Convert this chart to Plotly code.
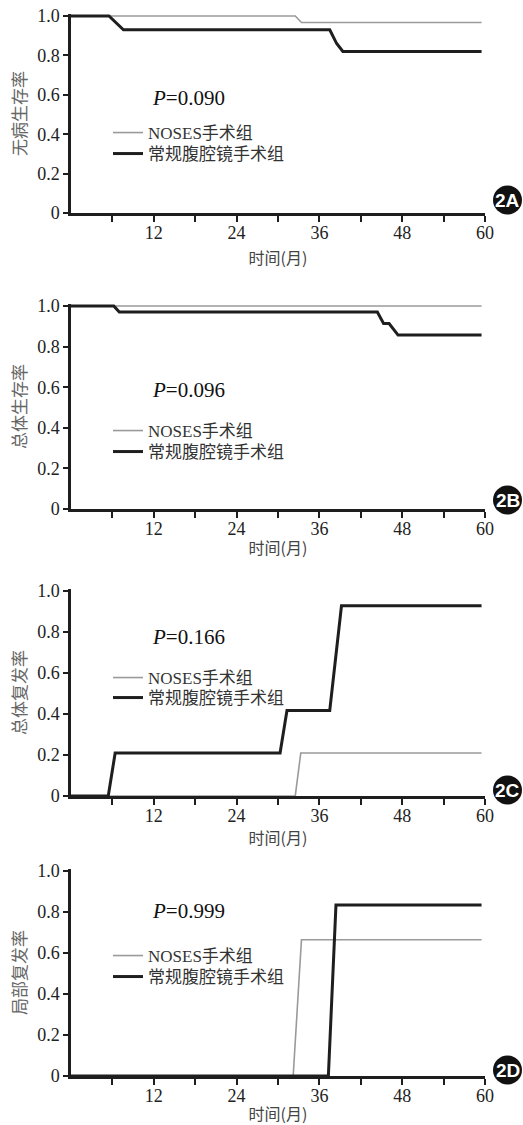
import plotly.graph_objects as go

# ---- data (months, rates) ----
dfs_noses_t = [0, 32.5, 33.4, 59.5]
dfs_noses_v = [1.0, 1.0, 0.967, 0.967]
dfs_conv_t = [0, 5.5, 7.6, 37.5, 38.5, 39.4, 59.5]
dfs_conv_v = [1.0, 1.0, 0.93, 0.93, 0.86, 0.82, 0.82]

os_noses_t = [0, 59.5]
os_noses_v = [1.0, 1.0]
os_conv_t = [0, 6.2, 7.0, 44.4, 45.3, 46.1, 47.4, 59.5]
os_conv_v = [1.0, 1.0, 0.97, 0.97, 0.914, 0.914, 0.857, 0.857]

rec_noses_t = [0, 32.5, 33.3, 59.5]
rec_noses_v = [0, 0, 0.21, 0.21]
rec_conv_t = [0, 5.4, 6.4, 30.3, 31.3, 37.5, 39.2, 59.5]
rec_conv_v = [0, 0, 0.21, 0.21, 0.417, 0.417, 0.928, 0.928]

loc_noses_t = [0, 32.2, 33.4, 59.5]
loc_noses_v = [0, 0, 0.665, 0.665]
loc_conv_t = [0, 37.3, 38.4, 59.5]
loc_conv_v = [0, 0, 0.834, 0.834]

panels = [
    ("无病生存率", "0.090", "2A", dfs_noses_t, dfs_noses_v, dfs_conv_t, dfs_conv_v),
    ("总体生存率", "0.096", "2B", os_noses_t, os_noses_v, os_conv_t, os_conv_v),
    ("总体复发率", "0.166", "2C", rec_noses_t, rec_noses_v, rec_conv_t, rec_conv_v),
    ("局部复发率", "0.999", "2D", loc_noses_t, loc_noses_v, loc_conv_t, loc_conv_v),
]
group_names = ["NOSES手术组", "常规腹腔镜手术组"]
x_tickvals = [6, 12, 18, 24, 30, 36, 42, 48, 54, 60]
x_ticktext = ["", "12", "", "24", "", "36", "", "48", "", "60"]
y_tickvals = [0, 0.2, 0.4, 0.6, 0.8, 1.0]
y_ticktext = ["0", "0.2", "0.4", "0.6", "0.8", "1.0"]
x_title = "时间(月)"

W, H = 523, 1125
ML, MR, MT, MB = 71, 38, 0, 0
PW = W - ML - MR
PH = H - MT - MB

# pixel layout of each panel (top = value 1.0, bottom = value 0)
plot_px = [(14, 213), (304, 509), (589, 796), (869, 1076)]
ptext_px = [98, 390, 637, 911]
legend_rows_px = [(132, 153), (430, 451), (677, 697), (955, 976)]
badge_px = [200, 500, 790, 1070]
xtitle_standoff = [11, 5, 8, 8]

SERIF = "Liberation Serif"
MIX = "Liberation Serif, Noto Sans CJK SC"
CJK = "Noto Sans CJK SC"

def py(px):
    return (H - MB - px) / PH

def pxx(px):
    return (px - ML) / PW

fig = go.Figure()
layout = dict(
    width=W, height=H,
    margin=dict(l=ML, r=MR, t=MT, b=MB, autoexpand=False),
    paper_bgcolor="white", plot_bgcolor="white",
    showlegend=True,
    annotations=[], shapes=[],
)

for i, (ytitle, pval, badge, nt, nv, ct, cv) in enumerate(panels):
    k = "" if i == 0 else str(i + 1)
    xa, ya = "x" + k, "y" + k
    lg_a = "legend" if i == 0 else "legend" + str(2 * i + 1)
    lg_b = "legend" + str(2 * i + 2)
    fig.add_trace(go.Scatter(x=nt, y=nv, xaxis=xa, yaxis=ya, mode="lines",
                             line=dict(color="#9a9a9a", width=1.6),
                             name=group_names[0], legend=lg_a))
    fig.add_trace(go.Scatter(x=ct, y=cv, xaxis=xa, yaxis=ya, mode="lines",
                             line=dict(color="#1e1e1e", width=3),
                             name=group_names[1], legend=lg_b))
    top, bot = plot_px[i]
    layout["xaxis" + k] = dict(
        domain=[0, 1], anchor=ya, range=[0, 60], automargin=False,
        tickvals=x_tickvals, ticktext=x_ticktext,
        ticks="outside", ticklen=6, tickwidth=2, tickcolor="#1e1e1e",
        ticklabelstandoff=-4,
        showline=True, linewidth=2.5, linecolor="#1e1e1e",
        showgrid=False, zeroline=False,
        tickfont=dict(family=SERIF, size=18, color="#222"),
        title=dict(text=x_title, font=dict(family=CJK, size=16, color="#444"),
                   standoff=xtitle_standoff[i]),
    )
    layout["yaxis" + k] = dict(
        domain=[py(bot), py(top)], anchor=xa, range=[0, 1.01], automargin=False,
        tickvals=y_tickvals, ticktext=y_ticktext,
        ticks="outside", ticklen=5, tickwidth=2, tickcolor="#1e1e1e",
        showline=True, linewidth=2.5, linecolor="#1e1e1e",
        showgrid=False, zeroline=False,
        tickfont=dict(family=SERIF, size=18, color="#222"),
        title=dict(text=ytitle, font=dict(family=CJK, size=17, color="#666"),
                   standoff=7),
    )
    for lg, row in ((lg_a, legend_rows_px[i][0]), (lg_b, legend_rows_px[i][1])):
        layout[lg] = dict(
            x=pxx(108), y=py(row - 17), xanchor="left", yanchor="top",
            bgcolor="rgba(0,0,0,0)", borderwidth=0,
            font=dict(family=MIX, size=17, color="#333"),
            tracegroupgap=0, itemwidth=30,
        )
    layout["annotations"].append(dict(
        xref="paper", yref="paper", x=pxx(150), y=py(ptext_px[i]),
        xanchor="left", yanchor="middle", showarrow=False,
        text="<i>P</i>=" + pval,
        font=dict(family=SERIF, size=21, color="#111"),
    ))
    by = badge_px[i]
    layout["shapes"].append(dict(
        type="circle", xref="paper", yref="paper",
        x0=pxx(493), x1=pxx(522), y0=py(by + 14.5), y1=py(by - 14.5),
        fillcolor="#111", line=dict(width=0),
    ))
    layout["annotations"].append(dict(
        xref="paper", yref="paper", x=pxx(507.5), y=py(by),
        xanchor="center", yanchor="middle", showarrow=False,
        text="<b>" + badge + "</b>",
        font=dict(family="Liberation Sans Narrow, Liberation Sans", size=19, color="white"),
    ))

fig.update_layout(**layout)
fig.write_html("out.html",
               config={"displayModeBar": False},
               post_script="document.body.style.margin='0';document.body.style.overflow='hidden';")
